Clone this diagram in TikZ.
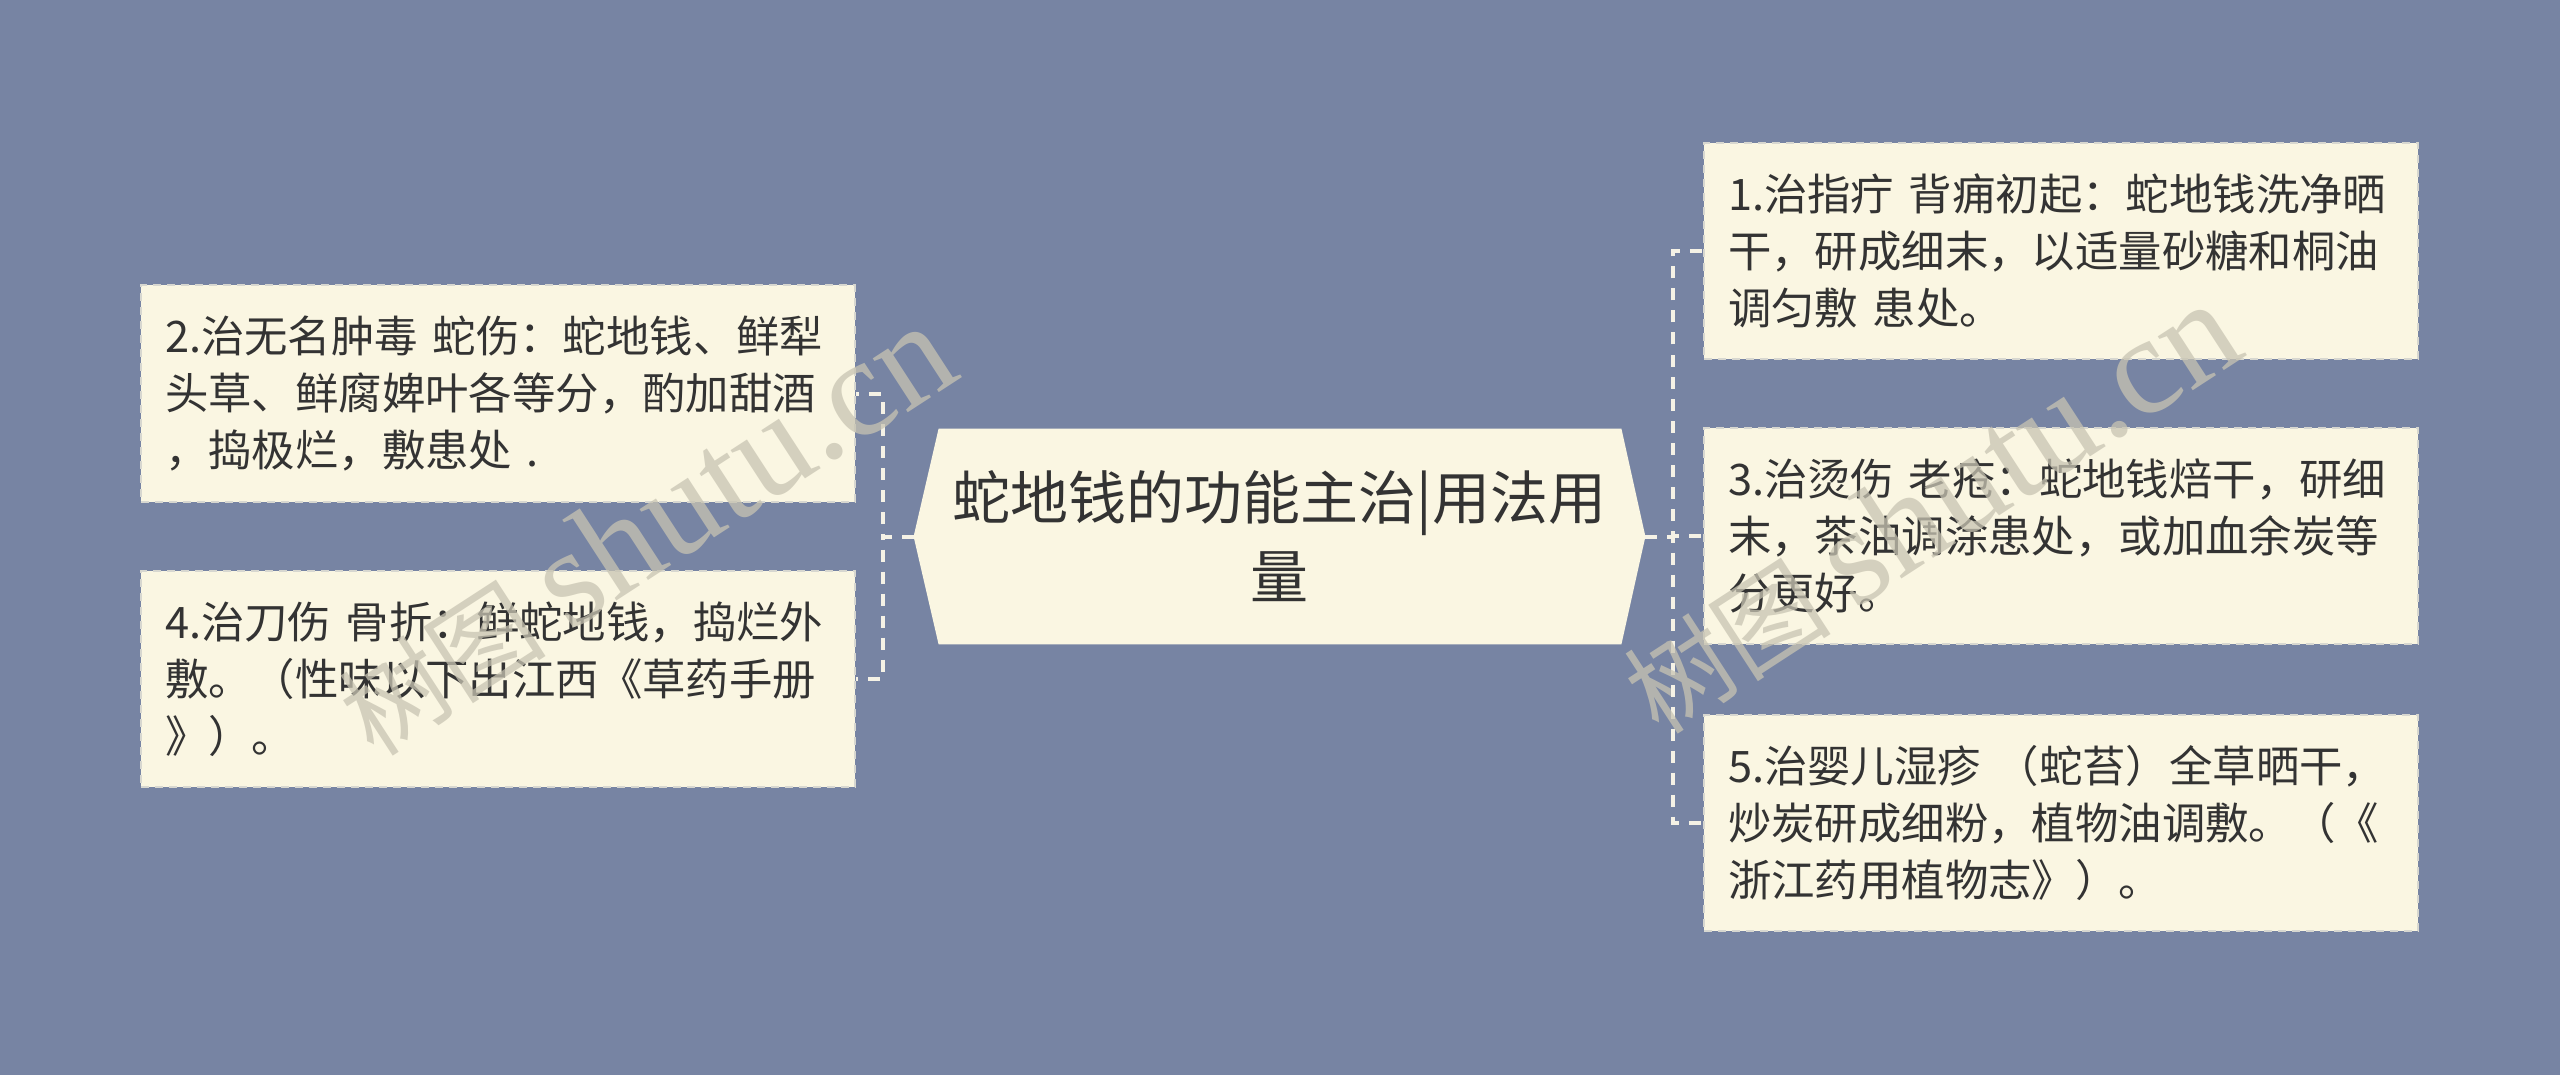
\documentclass[tikz,border=0pt]{standalone}
\usepackage{fontspec}
\setmainfont{Liberation Serif}
\newfontfamily\cjk{Noto Sans CJK SC}
\usetikzlibrary{backgrounds}
\definecolor{bgc}{RGB}{119,132,163}
\definecolor{cream}{RGB}{250,246,226}
\definecolor{txt}{RGB}{51,51,51}
\definecolor{connc}{RGB}{245,242,230}
\definecolor{bord}{RGB}{215,215,208}
\definecolor{wmc}{RGB}{200,196,178}
\begin{document}
\begin{tikzpicture}[x=0.5pt,y=-0.5pt,
  leaf/.style={rectangle, fill=cream, draw=bord, line width=1pt, dash pattern=on 4pt off 3pt,
    text width=333pt, inner xsep=12pt, inner ysep=0pt, minimum height=108pt, align=left,
    text=txt, font=\cjk\fontsize{21.7pt}{28.5pt}\selectfont},
  rootnode/.style={rectangle, inner sep=0pt, minimum width=365.5pt, minimum height=107.5pt,
    align=center, text=txt, font=\cjk\fontsize{29pt}{39.5pt}\selectfont},
  link/.style={draw=connc, line width=2pt, dash pattern=on 6pt off 5pt},
  wm/.style={text=wmc, opacity=0.75, inner sep=0pt}
]
\begin{scope}[on background layer]
  \fill[bgc] (0,0) rectangle (2560,1075);
\end{scope}

\node[rootnode] (root) at (1279.5,536.5) {蛇地钱的功能主治|用法用\\量};

\node[leaf] (n1) at (2061,251) {1.治指疔 背痈初起：蛇地钱洗净晒\\干，研成细末，以适量砂糖和桐油\\调匀敷 患处。};
\node[leaf] (n3) at (2061,536) {3.治烫伤 老疮：蛇地钱焙干，研细\\末，茶油调涂患处，或加血余炭等\\分更好。};
\node[leaf] (n5) at (2061,823) {5.治婴儿湿疹 （蛇苔）全草晒干，\\炒炭研成细粉，植物油调敷。（《\\浙江药用植物志》）。};
\node[leaf] (n2) at (498,393.5) {2.治无名肿毒 蛇伤：蛇地钱、鲜犁\\头草、鲜腐婢叶各等分，酌加甜酒\\，捣极烂，敷患处 .};
\node[leaf] (n4) at (498,679) {4.治刀伤 骨折：鲜蛇地钱，捣烂外\\敷。（性味以下出江西《草药手册\\》）。};

\begin{scope}[on background layer]
  \fill[cream] (root.west) -- ([xshift=12.5pt]root.north west) -- ([xshift=-12pt]root.north east)
    -- (root.east) -- ([xshift=-12pt]root.south east) -- ([xshift=12.5pt]root.south west) -- cycle;
\end{scope}

\draw[link] (root.east) -- ++(28,0) |- (n1.west);
\draw[link] (root.east) -- ++(28,0) |- (n3.west);
\draw[link] (root.east) -- ++(28,0) |- (n5.west);
\draw[link] (root.west) -- ++(-31,0) |- (n2.east);
\draw[link] (root.west) -- ++(-31,0) |- (n4.east);

\node[wm, rotate=33] (wm1) at (645,530) {{\cjk\fontsize{52pt}{52pt}\selectfont 树图}\hspace{12pt}{\fontsize{70pt}{70pt}\selectfont shutu.cn}};
\node[wm, rotate=33] (wm2) at (1930,508) {{\cjk\fontsize{52pt}{52pt}\selectfont 树图}\hspace{12pt}{\fontsize{70pt}{70pt}\selectfont shutu.cn}};
\end{tikzpicture}
\end{document}
